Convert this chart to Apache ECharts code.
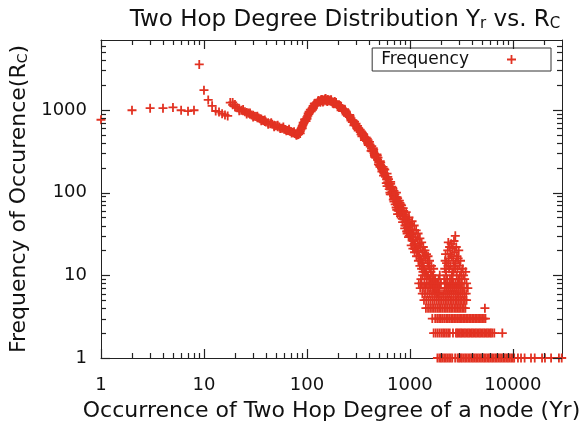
<!DOCTYPE html>
<html>
<head>
<meta charset="utf-8">
<script src="https://cdn.jsdelivr.net/npm/echarts@6/dist/echarts.min.js"></script>
<style>
  html, body { margin: 0; padding: 0; background: #fff; }
  #chart { width: 584px; height: 428px; }
</style>
</head>
<body>
<div id="chart"></div>
<script>
// values (x = Yr, y = frequency)
const isolatedPts = [[1,760],[2,990],[3,1050],[4,1050],[5,1070],[6,990],[7,965],[8,990],[9,3550],[10,1730],[11,1320],[12,1120],[13,970],[14,945],[15,900],[16,870],[17,845]];

const lowBranch = [[18,1225],[19,1150],[20,1095],[21,1060],[22,1030],[23,990],[24,975],[25,950],[26,930],[27,915],[28,885],[29,865],[30,860],[31,835],[32,830],[33,805],[34,800],[35,780],[36,775],[37,750],[38,745],[39,725],[40,715],[42,700],[44,680],[46,670],[48,650],[50,645],[52,625],[54,620],[56,600],[58,600],[60,585],[62,580],[64,565],[66,565],[68,550],[70,548],[72,535],[74,530],[76,520],[78,510],[80,505],
  [19,1230],[20,1160],[22,975],[24,1010],[26,890],[28,920],[30,820],[33,840],[36,740],[39,755],[42,670],[45,700],[48,625],[52,650],[55,595],[59,620],[63,560],[67,585],[71,525],[75,545],[79,495]];

const hump = [[81,500],[82,515],[83,505],[84,525],[85,540],[86,555],[87,575],[88,595],[89,610],[90,635],[91,650],[92,670],[93,690],[94,705],[95,725],[96,745],[97,760],[98,780],[100,815],[102,850],[104,890],[106,925],[108,960],[110,1000],[112,1040],[114,1070],[116,1100],[118,1130],[120,1160],[123,1190],[126,1220],[129,1245],[132,1265],[135,1280],[138,1295],[141,1305],[144,1310],[147,1320],[150,1315],[153,1320],[156,1310],[160,1300],
  [90,600],[95,770],[100,780],[105,950],[110,960],[115,1120],[120,1200],[130,1300],[140,1340],[150,1350],[145,1270],[135,1240],[160,1340],[155,1280],
  [86,520],[92,700],[98,730],[103,910],[108,1010],[113,1000],[118,1190],[125,1150],[128,1280],[137,1330],[143,1250],[152,1370],[158,1260]];

const fall = [[165,1290],[170,1270],[175,1255],[180,1230],[185,1210],[190,1185],[195,1160],[200,1140],[206,1100],[212,1070],[218,1035],[224,1000],[230,970],[237,930],[244,895],[251,855],[258,820],[265,785],[272,750],[280,715],[288,685],[296,655],[304,625],[312,595],[320,570],[330,540],[340,510],[350,485],[360,460],[370,440],[380,420],[390,400],[400,385],[412,360],[424,340],[436,320],[448,300],[460,282],[472,265],[485,248],[498,232],[511,218],[525,203],[540,188],[555,175],
  [172,1330],[182,1190],[192,1230],[202,1100],[210,1120],[222,970],[235,990],[248,850],[262,840],[276,710],[290,720],[305,600],[318,600],[335,505],[345,530],[365,435],[375,465],[395,375],[405,410],[430,315],[440,345],[465,265],[478,290],[505,215],[515,240],[535,180],[548,205],
  [168,1320],[178,1200],[188,1250],[198,1090],[215,1110],[228,1010],[240,940],[255,870],[268,740],[282,740],[300,680],[315,560],[328,575],[342,480],[355,510],[385,450],[410,380],[420,320],[445,330],[455,270],[490,265],[495,220],[520,230],[530,195],[555,160],[560,195],
  [185,1260],[205,1150],[232,1020],[260,870],[286,650],[310,640],[338,550],[362,430],[392,430],[426,365],[452,285],[482,280],[512,205]];

const steepTail = [[565,168],[580,155],[595,145],[610,134],[625,125],[640,117],[655,110],[670,103],[685,97],[700,91],[720,84],[740,78],[760,72],[780,67],[800,62],[825,57],[850,52],[875,48],[900,44],[925,41],[950,38],[975,35],[1000,33],
  [570,190],[590,130],[610,155],[630,110],[650,128],[660,95],[680,115],[700,78],[710,100],[735,66],[750,88],[770,60],[790,80],[810,52],[830,70],[850,44],[870,60],[890,37],[910,52],[930,34],[950,47],[970,29],[990,42],[760,85],[820,65],[880,55],[940,32],[640,100],[700,105],[720,72],
  [600,120],[620,145],[645,95],[665,118],[690,82],[715,95],[745,62],[765,80],[795,55],[815,72],[845,48],[865,58],[895,40],[915,48],[945,34],[965,44],[985,30],[760,55],[800,75],[860,65],[920,58],[980,50],[650,135],[600,170],[740,100]];

const cloud = [[1020,31],[1040,29],[1060,27],[1080,26],[1100,24],[1125,23],[1150,21],[1175,20],[1200,19],[1230,17],[1260,16],[1290,15],[1320,14],[1350,13],[1380,12],[1410,11],[1440,11],[1470,10],[1500,10],[1540,9],[1580,9],[1620,8],[1660,8],[1700,7],[1750,7],[1800,6],[1850,6],[1900,6],
  [1010,40],[1030,23],[1050,36],[1070,21],[1090,32],[1110,19],[1130,29],[1160,17],[1180,27],[1210,15],[1230,24],[1250,13],[1270,22],[1300,12],[1320,19],[1340,11],[1370,17],[1400,10],[1420,16],[1450,9],[1480,14],[1510,13],[1550,12],[1600,11],[1640,10],[1680,10],[1720,9],[1760,9],[1800,8],[1840,8],[1880,7],
  [1150,35],[1250,28],[1350,22],[1450,18],[1550,15],[1100,40],[1200,32],[1050,45],[1300,25],[1400,20],[1500,17],[1620,13],[1700,12],[1280,9],[1330,10],[1900,9],[1950,10],[2000,8]];

const secondBump = [[2150,9],[2180,12],[2200,15],[2220,18],[2240,11],[2270,14],[2300,9],[2330,20],[2360,25],[2380,16],[2400,12],[2430,22],[2460,18],[2490,13],[2520,24],[2550,17],[2580,11],[2610,21],[2640,15],[2680,26],[2720,19],[2760,30],[2790,14],[2820,22],[2860,17],[2900,12],[2940,16],[2980,20],[3020,13],[3060,10],[3100,15],[3150,11],[3200,9],[3260,12],[3320,10],[3400,9],[3480,11],[3550,8],[3650,7],
  [2250,10],[2350,13],[2450,9],[2550,10],[2650,11],[2750,12],[2850,10],[2950,9],[3050,8],[2700,13],[2600,9]];

// integer frequency rows at the bottom: x positions for y = 1..8
const row1X = [1850,1930,2000,2070,2150,2230,2310,2400,2490,2580,2750,2900,3000,3100,3200,3320,3440,3560,3690,3820,3960,4100,4250,4400,4560,4720,4900,5080,5260,5450,5650,5850,6060,6280,6500,6740,6980,7230,7500,7770,8050,8350,8650,8960,9280,9620,9970,10300,11200,12000,13000,15000,16300,19200,20500,23500,28000,29800];
const row2X = [1700,1780,1860,1940,2020,2100,2180,2260,2350,2440,2620,2800,2880,2960,3050,3140,3230,3330,3430,3540,3650,3760,3880,4000,4120,4250,4380,4520,4660,4800,4950,5100,5260,5420,5590,5760,5940,6120,6320,6600,7900];
const row3X = [1650,1760,1840,1920,2000,2080,2160,2250,2340,2430,2520,2610,2700,2800,2900,3000,3100,3200,3310,3420,3530,3650,3770,3900,4030,4160,4300,4440,4590,4740,4900,5060,5240,5420];
const row4X = [1430,1500,1570,1640,1710,1780,1850,1920,2000,2080,2160,2240,2330,2420,2510,2600,2700,2800,2900,3000,3110,3220,3340,3460,5350];
const row5X = [1370,1440,1510,1580,1650,1720,1800,1880,1960,2040,2120,2200,2290,2380,2470,2560,2660,2760,2860,2960,3070,3180,3300,3420,3550];
const row6X = [1320,1400,1480,1560,1640,1720,1800,1880,1960,2050,2140,2240,2340,2440,2540,2650,2760,2870,2990,3110,3240,3380,3520];
const row7X = [1260,1340,1420,1500,1580,1660,1750,1840,1930,2180,2280,2380,2490,2600,2710,2830,2950,3080,3210,3350];
const row8X = [1220,1300,1380,1460,1540,1620,1710,1800,1890,1980,2200,2300,2410,2520,2640,2760,2880,3010,3150];

// tick positions (gnuplot style, mirrored on all four sides)
const xMajorTicks = [1, 10, 100, 1000, 10000];
const xMinorTicks = [2,3,4,5,6,7,8,9, 20,30,40,50,60,70,80,90, 200,300,400,500,600,700,800,900, 2000,3000,4000,5000,6000,7000,8000,9000, 20000];
const yMajorTicks = [1, 10, 100, 1000];
const yMinorTicks = [2,3,4,5,6,7,8,9, 20,30,40,50,60,70,80,90, 200,300,400,500,600,700,800,900, 2000,3000,4000,5000,6000];

const X_MIN = 1, X_MAX = 30000, Y_MIN = 1, Y_MAX = 7000;

const rows = [row1X, row2X, row3X, row4X, row5X, row6X, row7X, row8X];
let freqData = [].concat(isolatedPts, lowBranch, hump, fall, steepTail, cloud, secondBump);
rows.forEach((xs, i) => {
  xs.forEach(x => freqData.push([x, i + 1]));
});

const RED = '#e23222';
const INK = '#222';
const FONT = 'DejaVu Sans';
const plus = 'path://M4,0H6V4H10V6H6V10H4V6H0V4H4Z';
const fmt = v => String(Math.round(v));

function logAxis(pos, min, max, labels) {
  return {
    type: 'log',
    logBase: 10,
    position: pos,
    min: min,
    max: max,
    gridIndex: 0,
    axisLine: { show: true, lineStyle: { color: INK, width: 1 } },
    axisTick: { show: false },
    minorTick: { show: false },
    splitLine: { show: false },
    axisLabel: {
      show: labels,
      fontSize: 18,
      fontFamily: FONT,
      color: '#111',
      margin: 18,
      showMaxLabel: false,
      formatter: fmt
    }
  };
}

const xBottom = logAxis('bottom', X_MIN, X_MAX, true);
xBottom.name = 'Occurrence of Two Hop Degree of a node (Yr)';
xBottom.nameLocation = 'middle';
xBottom.nameGap = 42;
xBottom.nameTextStyle = { fontSize: 22, fontFamily: FONT, color: '#111' };

const yLeft = logAxis('left', Y_MIN, Y_MAX, true);
yLeft.axisLabel.margin = 14;
yLeft.name = 'Frequency of Occurence(R{s|C})';
yLeft.nameLocation = 'middle';
yLeft.nameRotate = 90;
yLeft.nameGap = 53;
yLeft.nameTextStyle = {
  fontSize: 22, fontFamily: FONT, color: '#111',
  rich: { s: { fontSize: 14, fontFamily: FONT, color: '#111', lineHeight: 10, verticalAlign: 'bottom' } }
};

// ticks drawn through the axes' own scales
const px = v => Math.round(v) + 0.5;
function xTickItem(params, api) {
  const v = api.value(0), len = api.value(1);
  const b = api.coord([v, Y_MIN]);
  const t = api.coord([v, Y_MAX]);
  const x = px(b[0]);
  return {
    type: 'group',
    children: [
      { type: 'line', shape: { x1: x, y1: b[1], x2: x, y2: b[1] - len }, style: { stroke: INK, lineWidth: 1.2 } },
      { type: 'line', shape: { x1: x, y1: t[1], x2: x, y2: t[1] + len }, style: { stroke: INK, lineWidth: 1.2 } }
    ]
  };
}
function yTickItem(params, api) {
  const len = api.value(0), v = api.value(1);
  const l = api.coord([X_MIN, v]);
  const r = api.coord([X_MAX, v]);
  const y = px(l[1]);
  return {
    type: 'group',
    children: [
      { type: 'line', shape: { x1: l[0], y1: y, x2: l[0] + len, y2: y }, style: { stroke: INK, lineWidth: 1.2 } },
      { type: 'line', shape: { x1: r[0], y1: y, x2: r[0] - len, y2: y }, style: { stroke: INK, lineWidth: 1.2 } }
    ]
  };
}

const chart = echarts.init(document.getElementById('chart'), null, { renderer: 'canvas' });
chart.setOption({
  animation: false,
  backgroundColor: '#fff',
  title: {
    text: 'Two Hop Degree Distribution Y{s|r} vs. R{s|C}',
    left: 340,
    top: 4,
    textAlign: 'center',
    textStyle: {
      fontSize: 23, fontWeight: 'normal', fontFamily: FONT, color: '#111',
      rich: { s: { fontSize: 15, fontFamily: FONT, color: '#111', lineHeight: 10, verticalAlign: 'bottom' } }
    }
  },
  legend: {
    data: ['Frequency'],
    right: 33,
    top: 48,
    align: 'right',
    icon: plus,
    itemWidth: 9,
    itemHeight: 9,
    itemGap: 0,
    padding: [3, 35, 3, 9],
    borderColor: '#333',
    borderWidth: 1,
    borderRadius: 0,
    textStyle: { fontSize: 17, fontFamily: FONT, color: '#111', padding: [0, 33, 0, 0] }
  },
  grid: { left: 101, right: 22, top: 40, bottom: 70, containLabel: false },
  xAxis: [xBottom, logAxis('top', X_MIN, X_MAX, false)],
  yAxis: [yLeft, logAxis('right', Y_MIN, Y_MAX, false)],
  series: [
    {
      name: 'Frequency',
      type: 'scatter',
      xAxisIndex: 0,
      yAxisIndex: 0,
      symbol: plus,
      symbolSize: 9,
      symbolKeepAspect: true,
      itemStyle: { color: RED, opacity: 1 },
      data: freqData,
      z: 3
    },
    {
      name: 'xticks',
      type: 'custom',
      silent: true,
      xAxisIndex: 0,
      yAxisIndex: 0,
      renderItem: xTickItem,
      encode: { x: 0, y: 1 },
      data: xMajorTicks.map(v => [v, 9]).concat(xMinorTicks.map(v => [v, 5])),
      z: 4
    },
    {
      name: 'yticks',
      type: 'custom',
      silent: true,
      xAxisIndex: 0,
      yAxisIndex: 0,
      renderItem: yTickItem,
      encode: { x: 0, y: 1 },
      data: yMajorTicks.map(v => [9, v]).concat(yMinorTicks.map(v => [5, v])),
      z: 4
    }
  ]
});
</script>
</body>
</html>
